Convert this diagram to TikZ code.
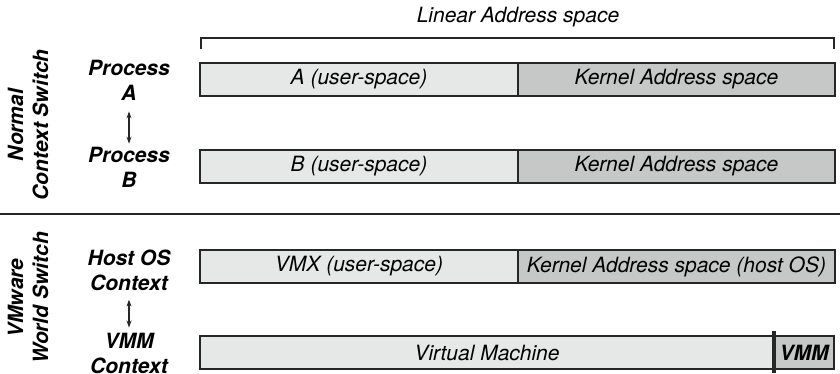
\documentclass[tikz,border=0pt]{standalone}
\usepackage{fontspec}
\setmainfont{TeX Gyre Heros}
\usepackage{tikz}
\usetikzlibrary{arrows.meta,positioning}
\definecolor{MemLight}{HTML}{E6E7E7}
\definecolor{MemDark}{HTML}{C6C7C7}
\definecolor{MemLine}{HTML}{262626}
\newcommand{\memsize}{\fontsize{21}{25}\selectfont}
\tikzset{
  memcell/.style={draw=MemLine, line width=1.6pt, minimum height=33pt,
                  inner sep=0pt, outer sep=0pt, font=\memsize\itshape},
  user/.style={memcell, fill=MemLight, minimum width=318pt, anchor=north west},
  kern/.style={memcell, fill=MemDark, minimum width=317pt},
  ctx/.style={align=center, inner sep=1pt, font=\memsize\bfseries\itshape},
  side/.style={align=center, rotate=90, font=\memsize\bfseries\itshape},
  swap/.style={{Stealth[length=7pt,width=5pt]}-{Stealth[length=7pt,width=5pt]},
               line width=1.1pt, draw=MemLine}
}

\begin{document}
\begin{tikzpicture}[x=1pt, y=-1pt]
  \useasboundingbox (0,0) rectangle (840,373);

  % linear address range
  \coordinate (lin-l) at (201,49);
  \coordinate (lin-r) at (834,49);
  \draw[MemLine, line width=1.3pt] (lin-l) |- (517,38) -| (lin-r);
  \node[font=\memsize\itshape] (linear) at (518,17) {Linear Address space};

  % normal context switch
  \node[user] (userA) at (200,63) {A (user-space)};
  \node[kern, right=0pt of userA] (kernA) {Kernel Address space};
  \node[user] (userB) at (200,150) {B (user-space)};
  \node[kern, right=0pt of userB] (kernB) {Kernel Address space};

  \node[ctx] (procA) at (129,80) {Process\\A};
  \node[ctx] (procB) at (129,167) {Process\\B};
  \draw[swap, shorten <=10pt, shorten >=2pt] (procA) -- (procB);

  \node[side] (normal) at (28,125) {Normal\\Context Switch};

  \draw[MemLine, line width=2.4pt] (0,214) -- (840,214);

  % vmware world switch
  \node[user] (vmx) at (200,250) {VMX (user-space)};
  \node[kern, right=0pt of vmx] (kernHost) {Kernel Address space (host OS)};
  \node[user, minimum width=574pt] (vm) at (200,336) {Virtual Machine};
  \node[kern, minimum width=60pt, right=0pt of vm, font=\memsize\bfseries\itshape] (vmm) {VMM};
  \draw[MemLine, line width=3.2pt] (vmm.north west) ++(0,-5) -- ++(0,42);

  \node[ctx] (hostCtx) at (129,270) {Host OS\\Context};
  \node[ctx] (vmmCtx) at (129,353) {VMM\\Context};
  \draw[swap, shorten <=8pt, shorten >=4pt] (hostCtx) -- (vmmCtx);

  \node[side] (vmware) at (28,298) {VMware\\World Switch};
\end{tikzpicture}
\end{document}
